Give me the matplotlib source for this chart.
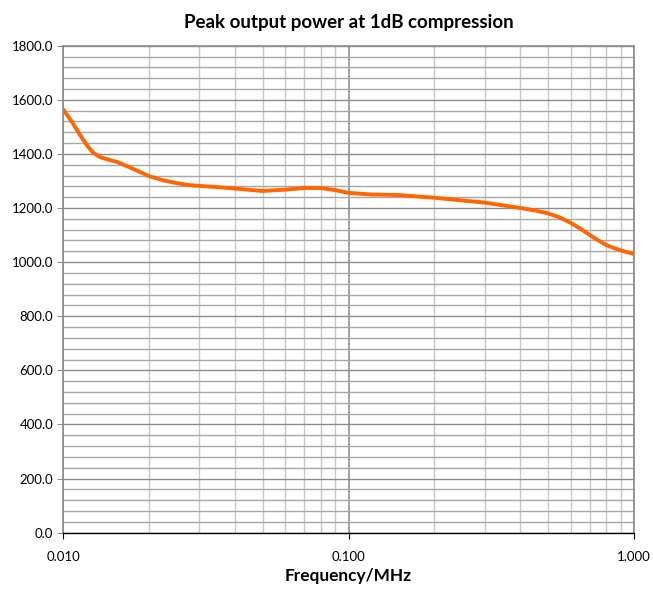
import numpy as np
import matplotlib
matplotlib.use("Agg")
import matplotlib.pyplot as pl
from matplotlib.ticker import FixedLocator, FuncFormatter, NullFormatter

pl.rcParams['font.family'] = ['Lato', 'DejaVu Sans']

# values
freq_mhz = [0.010, 0.0108, 0.0115, 0.0122, 0.0128, 0.0135, 0.0145, 0.0155,
            0.017, 0.018, 0.020, 0.0225, 0.025, 0.0275, 0.030, 0.035,
            0.040, 0.050, 0.060, 0.070, 0.080, 0.090, 0.100, 0.120, 0.150,
            0.200, 0.300, 0.400, 0.450, 0.500, 0.550, 0.600, 0.650, 0.700,
            0.750, 0.800, 0.850, 0.900, 1.000]
power = [1565, 1515, 1468, 1428, 1403, 1388, 1378, 1370,
         1352, 1340, 1318, 1302, 1292, 1285, 1282, 1277,
         1272, 1263, 1268, 1274, 1274, 1266, 1256, 1250, 1248,
         1238, 1220, 1200, 1191, 1180, 1165, 1145, 1123, 1100,
         1080, 1063, 1052, 1043, 1030]

fig = pl.figure(figsize=(6.53, 5.92), dpi=100)
ax = fig.add_axes([0.0965, 0.1002, 0.8745, 0.8226])

ax.set_xscale('log')
ax.set_xlim(0.01, 1.0)
ax.set_ylim(0, 1800)

# grid
major_x = [0.01, 0.1, 1.0]
minor_x = [m * d for d in (0.01, 0.1) for m in range(2, 10)]
ax.xaxis.set_major_locator(FixedLocator(major_x))
ax.xaxis.set_minor_locator(FixedLocator(minor_x))
ax.xaxis.set_major_formatter(FuncFormatter(lambda v, p: "%.3f" % v))
ax.xaxis.set_minor_formatter(NullFormatter())
ax.yaxis.set_major_locator(FixedLocator(np.arange(0, 1801, 200)))
ax.yaxis.set_minor_locator(FixedLocator(np.arange(0, 1801, 40)))
ax.yaxis.set_major_formatter(FuncFormatter(lambda v, p: "%.1f" % v))

ax.grid(True, which='major', axis='y', color='#8c8c8c', lw=1.0)
ax.grid(True, which='minor', axis='y', color='#a6a6a6', lw=1.0)
ax.grid(True, which='major', axis='x', color='#9a9a9a', lw=1.3)
ax.grid(True, which='minor', axis='x', color='#c8c8c8', lw=1.0)
ax.set_axisbelow(True)

ax.plot(freq_mhz, power, color='#ff6600', lw=2.8, solid_capstyle='round',
        solid_joinstyle='round', zorder=3)

for s in ('left', 'top', 'right'):
    ax.spines[s].set_color('#8c8c8c')
    ax.spines[s].set_linewidth(1.2)
ax.spines['bottom'].set_color('#000000')
ax.spines['bottom'].set_linewidth(1.0)

ax.tick_params(axis='both', which='major', direction='out', length=4,
               labelsize=9.5, colors='#000000')
ax.tick_params(axis='y', which='major', color='#8c8c8c', pad=3)
ax.tick_params(axis='x', which='major', pad=9)
ax.tick_params(axis='both', which='minor', length=0)

ax.set_title("Peak output power at 1dB compression", fontsize=13.5,
             fontweight='bold', pad=13)
ax.set_xlabel("Frequency/MHz", fontsize=12.4, fontweight='bold', labelpad=4)

fig.savefig("out.png", dpi=100)
